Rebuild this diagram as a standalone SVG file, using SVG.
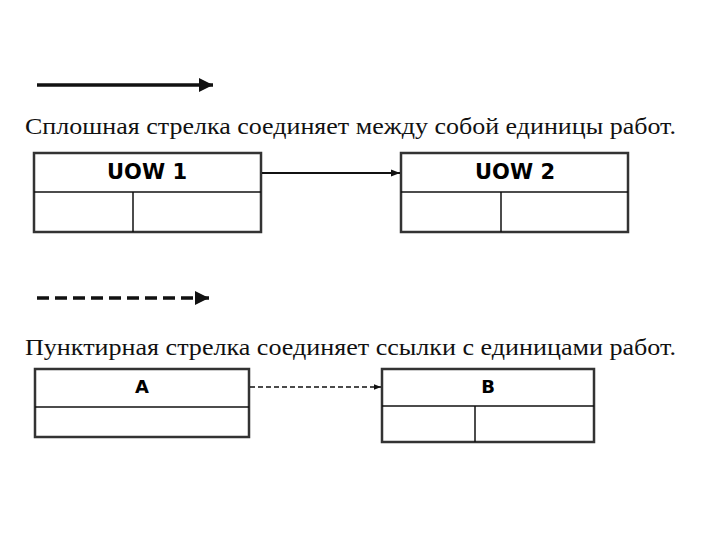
<svg xmlns="http://www.w3.org/2000/svg" width="720" height="540" viewBox="0 0 720 540">
<style>
.outer{fill:#fff;stroke:#333;stroke-width:2.5}
.inner{stroke:#111;stroke-width:1.5;fill:none}
.title{font-family:"DejaVu Sans",Verdana,sans-serif;font-weight:bold;fill:#000;text-anchor:middle}
.cap{font-family:"Liberation Serif","Times New Roman",serif;font-size:24px;fill:#111}
</style>
<defs>
<marker id="ah" viewBox="0 0 10 10" refX="10" refY="5" markerWidth="4" markerHeight="4" orient="auto" markerUnits="strokeWidth"><path d="M0,0 L10,5 L0,10 z" fill="#111"/></marker>
<marker id="ahs" viewBox="0 0 10 10" refX="10" refY="5" markerWidth="5" markerHeight="5" orient="auto" markerUnits="strokeWidth"><path d="M0,1 L10,5 L0,9 z" fill="#111"/></marker>
</defs>
<rect width="720" height="540" fill="#fff"/>
<g id="legend">
<line x1="37" y1="85" x2="213" y2="85" stroke="#111" stroke-width="3.5" marker-end="url(#ah)"/>
<line x1="37" y1="298" x2="209" y2="298" stroke="#111" stroke-width="3.5" stroke-dasharray="12 6" marker-end="url(#ah)"/>
<text class="cap" x="25" y="134" textLength="651" lengthAdjust="spacingAndGlyphs">Сплошная стрелка соединяет между собой единицы работ.</text>
<text class="cap" x="25" y="355" textLength="651" lengthAdjust="spacingAndGlyphs">Пунктирная стрелка соединяет ссылки с единицами работ.</text>
</g>
<g id="uow1">
<rect class="outer" x="34" y="153" width="227" height="79"/>
<line class="inner" x1="34" y1="192" x2="261" y2="192"/>
<line class="inner" x1="133" y1="192" x2="133" y2="232"/>
<text class="title" x="147" y="179" font-size="21">UOW 1</text>
</g>
<g id="uow2">
<rect class="outer" x="401" y="153" width="227" height="79"/>
<line class="inner" x1="401" y1="192" x2="628" y2="192"/>
<line class="inner" x1="501" y1="192" x2="501" y2="232"/>
<text class="title" x="515" y="179" font-size="21">UOW 2</text>
</g>
<g id="a">
<rect class="outer" x="35" y="369" width="214" height="68"/>
<line class="inner" x1="35" y1="407" x2="249" y2="407" stroke="#555" stroke-width="2"/>
<text class="title" x="142" y="393" font-size="18">A</text>
</g>
<g id="b">
<rect class="outer" x="382" y="369" width="212" height="73"/>
<line class="inner" x1="382" y1="406" x2="594" y2="406"/>
<line class="inner" x1="475" y1="406" x2="475" y2="442"/>
<text class="title" x="488" y="393" font-size="18">B</text>
</g>
<g id="connectors">
<line x1="262" y1="173" x2="400" y2="173" stroke="#111" stroke-width="1.8" marker-end="url(#ahs)"/>
<line x1="250" y1="387" x2="381" y2="387" stroke="#111" stroke-width="1.5" stroke-dasharray="5 3" marker-end="url(#ahs)"/>
</g>
</svg>
